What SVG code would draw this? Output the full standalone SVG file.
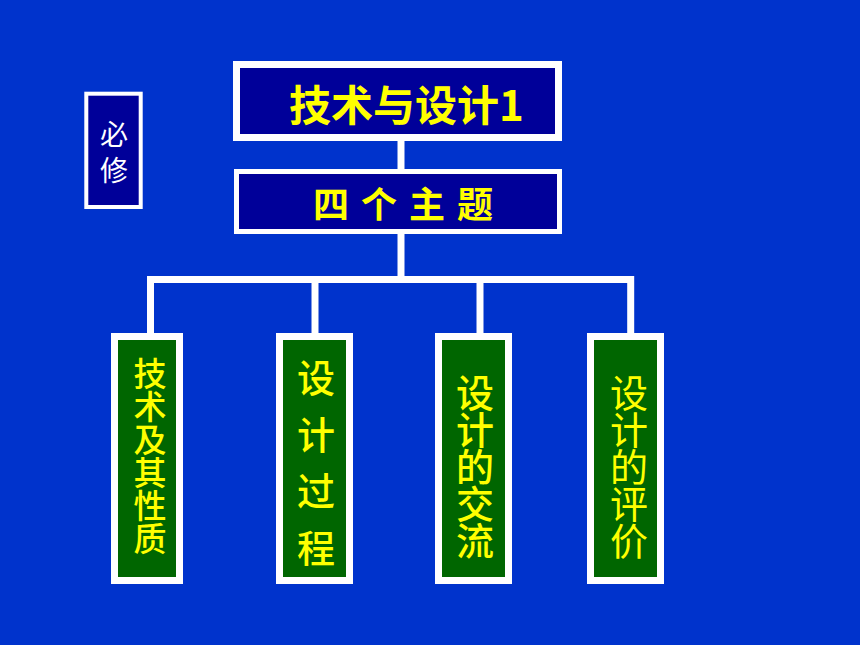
<svg xmlns="http://www.w3.org/2000/svg" width="860" height="645" viewBox="0 0 860 645">
<style>
.bg{fill:#0033CC}
.navy{fill:#000099;stroke:#FFFFFF}
.green{fill:#006600;stroke:#FFFFFF;stroke-width:7}
.conn{fill:none;stroke:#FFFFFF;stroke-width:7;stroke-linejoin:miter}
.t{font-family:"Noto Sans CJK SC","Liberation Sans",sans-serif;text-anchor:middle;dominant-baseline:central}
.y{fill:#FFFF00}
.b{font-weight:bold}
.m{font-weight:500}
</style>
<rect class="bg" x="0" y="0" width="860" height="645"/>
<g id="connectors">
<path class="conn" d="M401 141 V169"/>
<path class="conn" d="M401 234 V279.5"/>
<path class="conn" d="M150.5 333 V279.5 H630.7 V333"/>
<path class="conn" d="M315 279.5 V333"/>
<path class="conn" d="M480 279.5 V333"/>
</g>
<g id="bixiu">
<rect class="navy" x="86.3" y="93.7" width="54.4" height="113.3" stroke-width="4"/>
<text class="t" fill="#FFFFFF" font-size="28" x="114 114" y="133 169">必修</text>
</g>
<g id="title">
<rect class="navy" x="236.5" y="64.5" width="322" height="73" stroke-width="7"/>
<text class="t y b" font-size="42" x="289" y="102.5" style="text-anchor:start">技术与设计1</text>
</g>
<g id="themes">
<rect class="navy" x="236.5" y="171.5" width="323" height="60" stroke-width="5"/>
<text class="t y b" font-size="36" x="331 355 379 403 427 451 475" y="201.5">四 个 主 题</text>
</g>
<g id="topic1">
<rect class="green" x="114.5" y="336.5" width="65" height="244"/>
<text class="t y m" font-size="33" x="150 150 150 150 150 150" y="372 405 438 471 504 537">技术及其性质</text>
</g>
<g id="topic2">
<rect class="green" x="279.5" y="336.5" width="70" height="244"/>
<text class="t y m" font-size="38" x="316 316 316 316" y="375 432 488.5 545">设计过程</text>
</g>
<g id="topic3">
<rect class="green" x="438.5" y="336.5" width="70" height="244"/>
<text class="t y m" font-size="38" x="475 475 475 475 475" y="390 427 464 501 538">设计的交流</text>
</g>
<g id="topic4">
<rect class="green" x="590.5" y="336.5" width="70" height="244"/>
<text class="t y" font-size="38" x="629 629 629 629 629" y="390 427 464 501 538">设计的评价</text>
</g>
</svg>
